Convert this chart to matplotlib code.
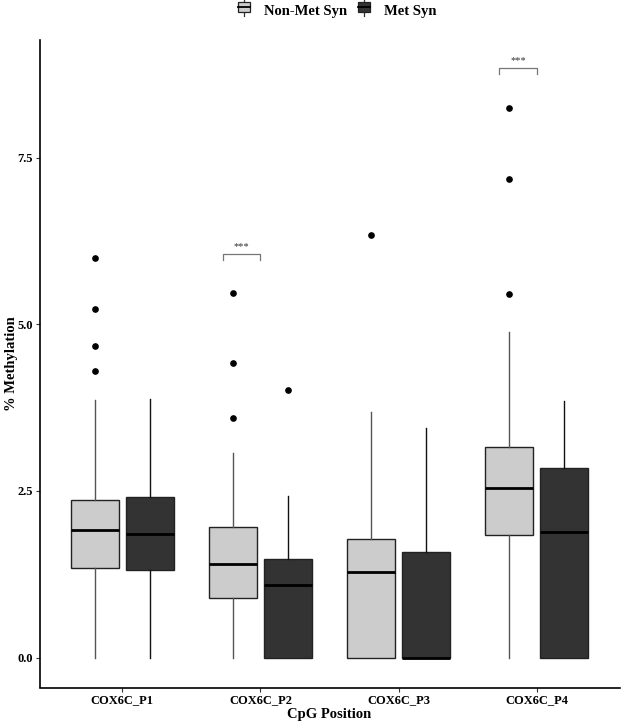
import numpy as np
import matplotlib.pyplot as plt
from matplotlib.patches import Rectangle
from matplotlib.lines import Line2D
from matplotlib.legend_handler import HandlerBase

plt.rcParams['font.family'] = ['Liberation Serif', 'DejaVu Serif']
plt.rcParams['font.weight'] = 'bold'

# summary values (% methylation)
positions = ['COX6C_P1', 'COX6C_P2', 'COX6C_P3', 'COX6C_P4']

nonmet_lo = [0.0, 0.0, 0.0, 0.0]
nonmet_q1 = [1.34, 0.90, 0.0, 1.84]
nonmet_med = [1.91, 1.41, 1.28, 2.55]
nonmet_q3 = [2.36, 1.96, 1.78, 3.16]
nonmet_hi = [3.87, 3.07, 3.69, 4.88]
nonmet_out = [[5.99, 5.23, 4.68, 4.30], [5.47, 4.42, 3.60], [6.34], [8.25, 7.19, 5.45]]

met_lo = [0.0, 0.0, 0.0, 0.0]
met_q1 = [1.31, 0.0, 0.0, 0.0]
met_med = [1.86, 1.09, 0.0, 1.88]
met_q3 = [2.41, 1.48, 1.59, 2.84]
met_hi = [3.88, 2.43, 3.44, 3.85]
met_out = [[], [4.02], [], []]

sig_idx = [1, 3]
sig_y = [6.06, 8.85]
sig_lab = ['***', '***']

light = '#CCCCCC'
dark = '#333333'


def make_stats(lo, q1, med, q3, hi, out):
    return [dict(whislo=a, q1=b, med=c, q3=d, whishi=e, fliers=f)
            for a, b, c, d, e, f in zip(lo, q1, med, q3, hi, out)]


fig = plt.figure(figsize=(6.25, 7.23), dpi=100)
ax = fig.add_axes([39.5 / 625, 1 - 687.5 / 723, 580 / 625, 647.5 / 723])

x = np.arange(1, len(positions) + 1)
off = 0.2
w = 0.35

groups = [
    (make_stats(nonmet_lo, nonmet_q1, nonmet_med, nonmet_q3, nonmet_hi, nonmet_out), -off, light, '#555555'),
    (make_stats(met_lo, met_q1, met_med, met_q3, met_hi, met_out), off, dark, '#111111'),
]
for stats, dx, fc, wc in groups:
    ax.bxp(stats, positions=x + dx, widths=w, patch_artist=True, showcaps=False,
           boxprops=dict(facecolor=fc, edgecolor='#222222', linewidth=1.0),
           medianprops=dict(color='black', linewidth=2.0),
           whiskerprops=dict(color=wc, linewidth=1.0),
           flierprops=dict(marker='o', markerfacecolor='black', markeredgecolor='black',
                           markersize=3.8, linestyle='none'),
           zorder=2)

# significance brackets
for i, yv, lab in zip(sig_idx, sig_y, sig_lab):
    xc = x[i]
    ax.plot([xc - 0.27, xc - 0.27, xc, xc], [yv - 0.09, yv, yv, yv - 0.09],
            color='#777777', lw=0.9)
    ax.text(xc - 0.135, yv + 0.04, lab, ha='center', va='bottom', fontsize=7.5,
            color='#333333', fontweight='normal')

ax.set_xlim(0.4, 4.6)
ax.set_ylim(-0.45, 9.27)
ax.set_xticks(x)
ax.set_xticklabels(positions, fontsize=9, fontweight='bold')
ax.set_yticks([0.0, 2.5, 5.0, 7.5])
ax.set_yticklabels(['0.0', '2.5', '5.0', '7.5'], fontsize=9, fontweight='bold')
ax.tick_params(length=3, width=0.8, color='#333333', pad=2)
for s in ['top', 'right']:
    ax.spines[s].set_visible(False)
for s in ['left', 'bottom']:
    ax.spines[s].set_linewidth(1.2)
    ax.spines[s].set_color('black')
ax.set_xlabel('CpG Position', fontsize=10.5, fontweight='bold', labelpad=1)
ax.set_ylabel('% Methylation', fontsize=10.5, fontweight='bold')
ax.yaxis.set_label_coords((18 - 39.5) / 580, 0.5)


class BoxKey(HandlerBase):
    def __init__(self, fc):
        super().__init__()
        self.fc = fc

    def create_artists(self, legend, orig, xd, yd, width, height, fontsize, trans):
        cx = xd + width / 2
        bh = height * 0.75
        by = yd + (height - bh) / 2
        arts = [
            Line2D([cx, cx], [yd - 2, by], color='#333333', lw=0.9),
            Line2D([cx, cx], [by + bh, yd + height + 2], color='#333333', lw=0.9),
            Rectangle((xd, by), width, bh, facecolor=self.fc, edgecolor='#222222', lw=0.9),
            Line2D([xd, xd + width], [by + bh / 2, by + bh / 2], color='black', lw=1.3),
        ]
        for a in arts:
            a.set_transform(trans)
        return arts


h1 = Rectangle((0, 0), 1, 1)
h2 = Rectangle((0, 0), 1, 1)
fig.legend([h1, h2], ['Non-Met Syn', 'Met Syn'], loc='center left',
           bbox_to_anchor=(238 / 625, 1 - 10.5 / 723), borderpad=0, borderaxespad=0,
           ncol=2, frameon=False, handlelength=0.85, handleheight=0.95, handletextpad=0.95,
           columnspacing=0.7, prop=dict(size=10.5, weight='bold'),
           handler_map={h1: BoxKey(light), h2: BoxKey(dark)})

fig.savefig('out.png', dpi=100)
